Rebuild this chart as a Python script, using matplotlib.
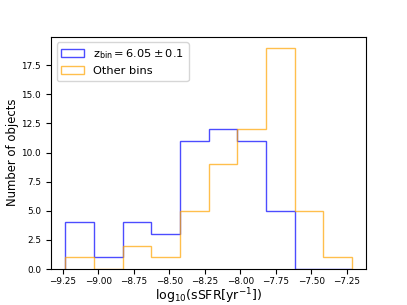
import numpy as np
import matplotlib.pyplot as plt

# histogram bins in log10(sSFR)
bin_edges = [-9.231, -9.029, -8.828, -8.626, -8.425, -8.223,
             -8.021, -7.820, -7.618, -7.417, -7.215]
counts_zbin = [4, 1, 4, 3, 11, 12, 11, 5, 0, 0]
counts_other = [1, 0, 2, 1, 5, 9, 12, 19, 5, 1]

centers = 0.5 * (np.array(bin_edges[:-1]) + np.array(bin_edges[1:]))

plt.figure(figsize=(4.07, 3.05), dpi=100)
plt.hist(centers, bins=bin_edges, weights=counts_zbin, histtype='step',
         color='blue', alpha=0.7, lw=1.0, label=r'$\rm z_{bin} = 6.05 \pm 0.1$')
plt.hist(centers, bins=bin_edges, weights=counts_other, histtype='step',
         color='orange', alpha=0.7, lw=1.0, label='Other bins')
plt.xlabel('log$_{10}$(sSFR[yr$^{-1}$])', fontsize=9.0, labelpad=0.3)
plt.ylabel('Number of objects', fontsize=8.4, labelpad=2)
plt.tick_params(labelsize=6.4)
plt.tick_params(axis='x', pad=2.3)
plt.legend(loc='upper left', fontsize=8.2)
plt.subplots_adjust(left=0.125, right=0.9, top=0.88, bottom=0.118)
plt.savefig('out.png', dpi=100)
